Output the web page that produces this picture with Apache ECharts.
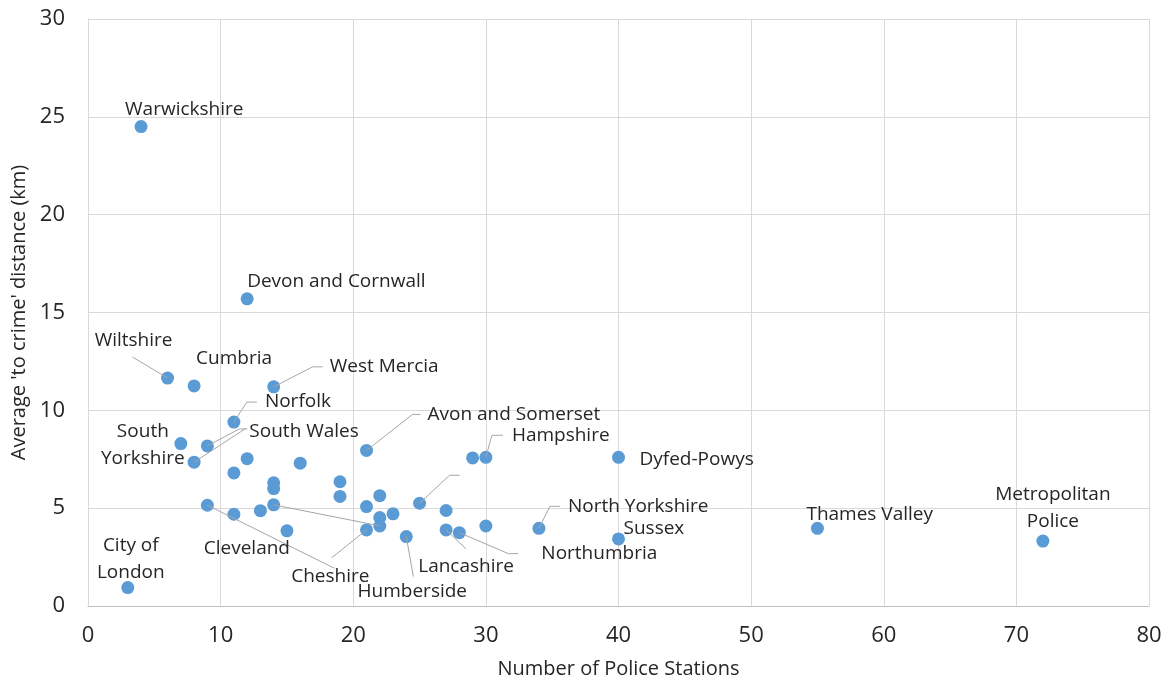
<!DOCTYPE html>
<html>
<head>
<meta charset="utf-8">
<script src="https://cdn.jsdelivr.net/npm/echarts@6/dist/echarts.min.js"></script>
<style>
html,body{margin:0;padding:0;background:#fff;}
#chart{width:1172px;height:684px;}
</style>
</head>
<body>
<div id="chart"></div>
<script>
// ---- data ----
const stations = [3, 4, 6, 8, 7, 9, 8, 11, 12, 14, 12, 11, 16, 14, 14, 19, 19, 21, 29, 30, 40, 22, 25, 9, 11, 13, 14, 15, 21, 22, 22, 21, 23, 24, 27, 27, 28, 30, 34, 40, 55, 72];
const distances = [0.94, 24.5, 11.65, 11.25, 8.3, 8.18, 7.35, 9.4, 15.7, 11.2, 7.53, 6.8, 7.3, 6.3, 6.0, 6.35, 5.6, 7.95, 7.57, 7.6, 7.6, 5.64, 5.25, 5.15, 4.69, 4.87, 5.17, 3.84, 5.08, 4.52, 4.09, 3.89, 4.71, 3.55, 4.88, 3.89, 3.75, 4.09, 3.97, 3.43, 3.97, 3.32];
const forceNames = ['City of\nLondon', 'Warwickshire', 'Wiltshire', 'Cumbria', 'South\nYorkshire', 'South Wales', '', 'Norfolk', 'Devon and Cornwall', 'West Mercia', '', '', '', '', '', '', '', 'Avon and Somerset', '', 'Hampshire', 'Dyfed-Powys', '', '', 'Cheshire', 'Cleveland', '', '', '', '', '', '', '', '', 'Humberside', '', 'Lancashire', 'Northumbria', '', 'North Yorkshire', 'Sussex', 'Thames Valley', 'Metropolitan\nPolice'];
const xTicks = [0, 10, 20, 30, 40, 50, 60, 70, 80];
const yTicks = [0, 5, 10, 15, 20, 25, 30];

// ---- label placement (pixel offsets from each point, style only) ----
// [dx, dy, align, leader polyline offsets]
const labelPlace = {
  0: [3, -29, 'center'],
  1: [-16, -17, 'left'],
  2: [-34, -37, 'center', [[-35, -21]]],
  3: [2, -27, 'left'],
  4: [-38, 1, 'center'],
  5: [42, -14, 'left', [[32, -17], [40, -17]]],
  6: [0, 0, 'left', [[52, -34]]],
  7: [31, -20, 'left', [[13, -20], [23, -20]]],
  8: [0, -17, 'left'],
  9: [56, -20, 'left', [[39, -20], [49, -20]]],
  17: [61, -36, 'left', [[46, -36], [54, -36]]],
  19: [26, -22, 'left', [[6, -22], [17, -22]]],
  20: [21, 2, 'left'],
  22: [0, 0, 'left', [[30, -28], [40, -28]]],
  23: [123, 71, 'center', [[127, 63]]],
  24: [13, 34, 'center'],
  26: [0, 0, 'left', [[106, 21]]],
  31: [0, 0, 'left', [[-35, 28]]],
  33: [6, 55, 'center', [[7, 40]]],
  35: [20, 37, 'center', [[20, 19]]],
  36: [82, 21, 'left', [[49, 21], [59, 21]]],
  38: [29, -22, 'left', [[11, -22], [21, -22]]],
  39: [5, -10, 'left'],
  40: [-11, -14, 'left'],
  41: [10, -33, 'center']
};

const FONT = '"Open Sans", sans-serif';
const points = stations.map((s, i) => [s, distances[i]]);

const chart = echarts.init(document.getElementById('chart'));
chart.setOption({
  animation: false,
  backgroundColor: '#ffffff',
  textStyle: { fontFamily: FONT },
  grid: { left: 88, right: 23, top: 19, bottom: 78, containLabel: false, outerBoundsMode: 'none' },
  xAxis: {
    type: 'value', min: xTicks[0], max: xTicks[xTicks.length - 1], interval: 10,
    name: 'Number of Police Stations', nameLocation: 'middle', nameGap: 53,
    nameTextStyle: { fontSize: 20, color: '#262626', verticalAlign: 'top' },
    axisLine: { show: true, lineStyle: { color: '#bfbfbf' } },
    axisTick: { show: false },
    axisLabel: { fontSize: 22, color: '#262626', margin: 19 },
    splitLine: { show: true, lineStyle: { color: '#d9d9d9' } }
  },
  yAxis: {
    type: 'value', min: yTicks[0], max: yTicks[yTicks.length - 1], interval: 5,
    name: "Average 'to crime' distance (km)", nameLocation: 'middle', nameGap: 56,
    nameTextStyle: { fontSize: 20, color: '#262626' },
    axisLine: { show: true, lineStyle: { color: '#d9d9d9' } },
    axisTick: { show: false },
    axisLabel: { fontSize: 22, color: '#262626', margin: 23 },
    splitLine: { show: true, lineStyle: { color: '#d9d9d9' } }
  },
  series: [
    {
      type: 'scatter',
      data: points,
      symbol: 'circle',
      symbolSize: 13,
      itemStyle: { color: '#5b9bd5', opacity: 1 },
      z: 2
    },
    {
      type: 'custom',
      data: points.map((p, i) => [p[0], p[1], i]),
      z: 3,
      silent: true,
      renderItem: function (params, api) {
        const i = api.value(2);
        const c = api.coord([api.value(0), api.value(1)]);
        const place = labelPlace[i];
        const children = [];
        if (!place) return { type: 'group', children: [] };
        if (place[3]) {
          const pts = [[c[0], c[1]]].concat(place[3].map(o => [c[0] + o[0], c[1] + o[1]]));
          children.push({
            type: 'polyline',
            shape: { points: pts },
            style: { stroke: '#a6a6a6', lineWidth: 1, fill: null }
          });
        }
        const txt = forceNames[i];
        if (txt) {
          children.push({
            type: 'text',
            x: c[0] + place[0],
            y: c[1] + place[1],
            style: {
              text: txt,
              fontSize: 19,
              fontFamily: FONT,
              fill: '#262626',
              align: place[2],
              verticalAlign: 'middle',
              lineHeight: 27
            }
          });
        }
        return { type: 'group', children: children };
      }
    }
  ]
});
</script>
</body>
</html>
